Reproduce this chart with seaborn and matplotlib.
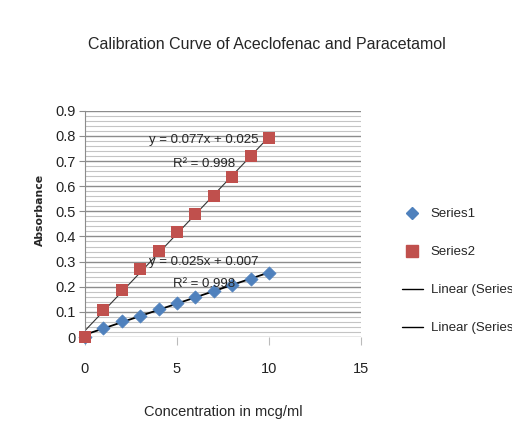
import matplotlib
matplotlib.use("Agg")
import matplotlib.pyplot as plt
import numpy as np
import pandas as pd
import seaborn as sns
from matplotlib.ticker import MultipleLocator, FuncFormatter
from matplotlib.lines import Line2D

# data
conc = [0, 1, 2, 3, 4, 5, 6, 7, 8, 9, 10]
series1 = [0.0, 0.037, 0.064, 0.084, 0.110, 0.135, 0.159, 0.182, 0.206, 0.231, 0.255]
series2 = [0.0, 0.106, 0.189, 0.270, 0.341, 0.416, 0.489, 0.560, 0.637, 0.720, 0.790]
eq_texts = ["y = 0.025x + 0.007", "y = 0.077x + 0.025"]
r2_texts = ["R² = 0.998", "R² = 0.998"]

df = pd.DataFrame({"conc": conc, "Series1": series1, "Series2": series2})

sns.set_style("white")
plt.rcParams["font.family"] = ["Liberation Sans", "DejaVu Sans"]

fig = plt.figure(figsize=(5.12, 4.36), dpi=100)
ax = fig.add_axes([0.166, 0.227, 0.539, 0.519])

blue = "#4F81BD"
red = "#C0504D"

sns.regplot(x="conc", y="Series1", data=df, scatter=False, ci=None, ax=ax,
            line_kws={"color": "black", "lw": 1.3})
sns.regplot(x="conc", y="Series2", data=df, scatter=False, ci=None, ax=ax,
            line_kws={"color": "#333333", "lw": 0.8})
sns.scatterplot(x="conc", y="Series1", data=df, ax=ax, marker="D", s=45,
                color=blue, edgecolor=blue, linewidth=0.5, clip_on=False, zorder=3)
sns.scatterplot(x="conc", y="Series2", data=df, ax=ax, marker="s", s=70,
                color=red, edgecolor=red, linewidth=0, clip_on=False, zorder=4)

ax.set_xlim(0, 15)
ax.set_ylim(0, 0.9)
ax.xaxis.set_major_locator(MultipleLocator(5))
ax.yaxis.set_major_locator(MultipleLocator(0.1))
ax.yaxis.set_minor_locator(MultipleLocator(0.02))
ax.grid(True, axis="y", which="major", color="#8c8c8c", lw=1.0)
ax.grid(True, axis="y", which="minor", color="#c4c4c4", lw=0.8)
ax.set_axisbelow(True)
ax.yaxis.set_major_formatter(FuncFormatter(lambda v, p: "0" if v == 0 else f"{v:.1f}"))

for s in ["top", "right", "bottom"]:
    ax.spines[s].set_visible(False)
ax.spines["left"].set_color("#8c8c8c")
ax.tick_params(axis="y", which="major", direction="out", length=4, color="#8c8c8c",
               left=True, labelsize=10.5, pad=3, labelcolor="#222222")
ax.tick_params(axis="y", which="minor", length=0)
ax.tick_params(axis="x", direction="out", length=6, color="#bbbbbb", bottom=True,
               labelsize=10.5, pad=12, labelcolor="#222222")

ax.set_xlabel("Concentration in mcg/ml", fontsize=10.5, labelpad=21)
ax.set_ylabel("Absorbance", fontsize=7.8, fontweight="bold", family="DejaVu Sans")
ax.yaxis.set_label_coords(-0.145, 0.56)
fig.text(0.522, 0.898, "Calibration Curve of Aceclofenac and Paracetamol",
         ha="center", va="center", fontsize=11.5)

ax.text(6.47, 0.297, eq_texts[0], ha="center", va="center", fontsize=9.5)
ax.text(6.47, 0.209, r2_texts[0], ha="center", va="center", fontsize=9.5)
ax.text(6.47, 0.782, eq_texts[1], ha="center", va="center", fontsize=9.5)
ax.text(6.47, 0.687, r2_texts[1], ha="center", va="center", fontsize=9.5)

handles = [
    Line2D([], [], marker="D", color=blue, ls="", markersize=6),
    Line2D([], [], marker="s", color=red, ls="", markersize=8),
    Line2D([], [], color="black", lw=1.0),
    Line2D([], [], color="black", lw=1.0),
]
labels = ["Series1", "Series2", "Linear (Series1)", "Linear (Series2)"]
fig.legend(handles, labels, loc="upper left", bbox_to_anchor=(0.761, 0.55),
           frameon=False, fontsize=9.5, labelspacing=1.95, handlelength=1.6,
           handletextpad=0.6)

fig.savefig("out.png", dpi=100)
